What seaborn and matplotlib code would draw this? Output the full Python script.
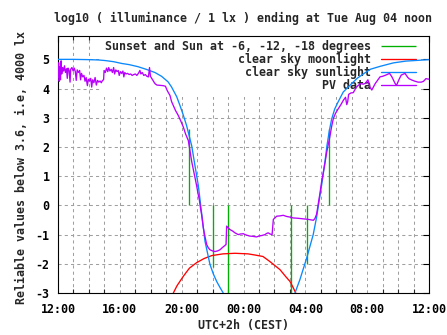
import matplotlib
matplotlib.use("Agg")
import matplotlib.pyplot as plt
import numpy as np
import pandas as pd
import seaborn as sns
from matplotlib.ticker import MultipleLocator, FixedLocator

# ---------------- data (hours after 12:00 CEST) ----------------
title = "log10 ( illuminance / 1 lx ) ending at Tue Aug 04 noon"
ylabel = "Reliable values below 3.6, i.e, 4000 lx"
xlabel = "UTC+2h (CEST)"
xtick_pos = [0, 4, 8, 12, 16, 20, 24]
xtick_labels = ["12:00", "16:00", "20:00", "00:00", "04:00", "08:00", "12:00"]
ytick_pos = [-3, -2, -1, 0, 1, 2, 3, 4, 5]

legend_labels = ["Sunset and Sun at -6, -12, -18 degrees", "clear sky moonlight",
                 "clear sky sunlight", "PV data"]

# sunset / twilight markers
sun_event_h = [8.50, 10.01, 10.98, 15.07, 16.13, 17.53]
sun_event_lo = [0.0, -2.1, -3.0, -3.0, -2.0, 0.0]
sun_event_hi = [2.6, 0.0, 0.0, 0.0, 0.0, 2.6]

# clear sky moonlight
moon_h = [7.46, 7.70, 8.09, 8.50, 8.97, 9.45, 9.94, 10.67, 11.45, 12.29, 12.75,
          13.26, 13.70, 14.36, 14.75, 15.00, 15.20, 15.38]
moon_v = [-3.0, -2.75, -2.44, -2.15, -1.96, -1.82, -1.72, -1.66, -1.64, -1.66, -1.70,
          -1.75, -1.92, -2.20, -2.45, -2.60, -2.80, -3.0]

# clear sky sunlight (evening branch, morning branch)
sun_pm_h = [0.0, 1.0, 2.0, 2.6, 3.04, 3.6, 4.12, 4.6, 5.17, 5.7, 6.27, 6.7, 7.12,
            7.35, 7.55, 7.68, 7.89, 8.1, 8.32, 8.5, 8.65, 8.86, 9.08, 9.29, 9.51,
            9.83, 10.05, 10.27, 10.5, 10.69]
sun_pm_v = [5.00, 5.00, 4.99, 4.98, 4.96, 4.92, 4.86, 4.82, 4.75, 4.66, 4.55, 4.42,
            4.23, 4.05, 3.85, 3.72, 3.42, 3.10, 2.73, 2.35, 2.04, 1.36, 0.67, -0.26,
            -1.23, -2.02, -2.35, -2.61, -2.83, -3.0]
sun_am_h = [15.33, 15.65, 16.09, 16.51, 16.73, 16.95, 17.10, 17.27, 17.40, 17.55,
            17.70, 17.90, 18.10, 18.45, 18.90, 19.35, 19.75, 20.2, 20.83, 21.7,
            22.5, 23.4, 24.0]
sun_am_v = [-3.0, -2.54, -1.80, -1.00, -0.40, 0.35, 0.85, 1.50, 2.05, 2.55, 2.95,
            3.30, 3.52, 3.88, 4.12, 4.35, 4.50, 4.66, 4.76, 4.88, 4.94, 4.97, 4.99]

# PV measurements
pv_h = [0.00, 0.04, 0.08, 0.12, 0.16, 0.20, 0.24, 0.30, 0.36, 0.42, 0.48, 0.55, 0.60,
        0.65, 0.72, 0.78, 0.82, 0.90, 0.98, 1.05, 1.12, 1.18, 1.24, 1.32, 1.40, 1.46,
        1.52, 1.60, 1.68, 1.75, 1.82, 1.90, 1.96, 2.04, 2.12, 2.18, 2.24, 2.32, 2.40,
        2.48, 2.56, 2.64, 2.72, 2.80, 2.88, 2.95, 2.98, 3.06, 3.14, 3.22, 3.28, 3.36,
        3.44, 3.52, 3.60, 3.66, 3.74, 3.82, 3.90, 3.96, 4.04, 4.12, 4.20, 4.26, 4.32,
        4.40, 4.50, 4.60, 4.70, 4.80, 4.90, 5.00, 5.10, 5.20, 5.30, 5.36, 5.45, 5.55,
        5.65, 5.75, 5.85, 5.92, 5.98, 6.05, 6.15, 6.27, 6.40, 6.60, 6.80, 6.95, 7.05,
        7.15, 7.24, 7.35, 7.46, 7.60, 7.78, 7.95, 8.11, 8.25, 8.43, 8.54, 8.65, 8.75,
        8.86, 8.97, 9.06, 9.14, 9.22, 9.30, 9.40, 9.50, 9.62, 9.72, 9.83, 10.00, 10.16,
        10.32, 10.48, 10.60, 10.74, 10.87, 10.91, 11.00, 11.13, 11.30, 11.45, 11.66,
        11.80, 11.99, 12.10, 12.21, 12.40, 12.60, 12.85, 13.00, 13.20, 13.39, 13.50,
        13.60, 13.72, 13.85, 13.93, 14.05, 14.15, 14.35, 14.57, 14.80, 15.00, 15.22,
        15.50, 15.87, 16.20, 16.52, 16.62, 16.73, 16.85, 16.95, 17.05, 17.16, 17.27,
        17.38, 17.50, 17.60, 17.70, 17.81, 17.95, 18.13, 18.30, 18.46, 18.60, 18.68,
        18.74, 18.80, 18.95, 19.10, 19.30, 19.56, 19.75, 19.88, 20.05, 20.18, 20.30,
        20.40, 20.52, 20.70, 20.83, 21.00, 21.20, 21.45, 21.60, 21.70, 21.80, 21.90,
        22.05, 22.20, 22.45, 22.60, 22.70, 22.90, 23.10, 23.30, 23.50, 23.65, 23.80,
        24.00]
pv_v = [4.40, 4.88, 4.25, 4.75, 4.30, 4.95, 4.50, 4.72, 4.60, 4.78, 4.55, 4.68, 4.35,
        4.70, 4.62, 4.22, 4.66, 4.72, 4.60, 4.70, 4.58, 4.28, 4.64, 4.55, 4.62, 4.30,
        4.52, 4.40, 4.45, 4.25, 4.38, 4.10, 4.32, 4.25, 4.35, 4.05, 4.30, 4.20, 4.38,
        4.12, 4.28, 4.22, 4.26, 4.20, 4.28, 4.30, 4.62, 4.55, 4.70, 4.58, 4.72, 4.60,
        4.66, 4.55, 4.72, 4.50, 4.64, 4.58, 4.62, 4.45, 4.58, 4.52, 4.60, 4.40, 4.55,
        4.50, 4.52, 4.48, 4.50, 4.45, 4.48, 4.50, 4.45, 4.52, 4.62, 4.50, 4.55, 4.45,
        4.48, 4.42, 4.40, 4.72, 4.42, 4.36, 4.28, 4.17, 4.12, 4.11, 4.10, 4.08, 3.95,
        3.85, 3.77, 3.55, 3.42, 3.25, 3.08, 2.88, 2.68, 2.45, 2.22, 1.85, 1.50, 1.24,
        0.95, 0.67, 0.40, 0.20, -0.10, -0.35, -0.77, -1.05, -1.34, -1.45, -1.52, -1.56,
        -1.58, -1.56, -1.52, -1.46, -1.40, -1.34, -0.71, -0.76, -0.83, -0.88, -0.94,
        -1.00, -0.98, -0.97, -1.00, -1.02, -1.05, -1.06, -1.08, -1.05, -1.03, -1.00,
        -0.96, -0.94, -0.98, -1.00, -0.48, -0.42, -0.37, -0.36, -0.34, -0.38, -0.40,
        -0.43, -0.44, -0.46, -0.48, -0.51, -0.45, -0.30, 0.10, 0.43, 0.80, 1.12, 1.45,
        1.81, 2.12, 2.39, 2.70, 2.97, 3.15, 3.31, 3.45, 3.60, 3.70, 3.45, 3.55, 3.80,
        3.85, 3.86, 4.05, 4.17, 4.15, 4.18, 4.30, 4.05, 3.95, 4.05, 4.17, 4.30, 4.40,
        4.42, 4.46, 4.52, 4.40, 4.29, 4.18, 4.11, 4.30, 4.46, 4.52, 4.40, 4.34, 4.29,
        4.25, 4.22, 4.22, 4.25, 4.34, 4.32]

# ---------------- style ----------------
GREEN, RED, BLUE, PURPLE = "#00b000", "#ff0000", "#0a88ff", "#b800ff"
FS = 8.4

sns.set_theme(style="white")
plt.rcParams['font.family'] = ['DejaVu Sans Mono', 'DejaVu Sans']
plt.rcParams['font.weight'] = 'bold'
plt.rcParams['axes.labelweight'] = 'bold'
plt.rcParams['axes.titleweight'] = 'bold'

fig = plt.figure(figsize=(4.47, 3.35), dpi=100)
fig.patch.set_facecolor("white")
L, R, T, B = 58, 429, 36, 293
ax = fig.add_axes([L / 447, 1 - B / 335, (R - L) / 447, (B - T) / 335])
ax.set_facecolor("white")

LW = 0.95
vl = ax.vlines(sun_event_h, sun_event_lo, sun_event_hi, colors=GREEN, lw=LW, zorder=3)
sns.lineplot(x=moon_h, y=moon_v, ax=ax, color=RED, lw=LW, sort=False, estimator=None,
             legend=False, zorder=3)
sns.lineplot(x=sun_pm_h, y=sun_pm_v, ax=ax, color=BLUE, lw=LW, sort=False,
             estimator=None, legend=False, zorder=3)
sns.lineplot(x=sun_am_h, y=sun_am_v, ax=ax, color=BLUE, lw=LW, sort=False,
             estimator=None, legend=False, zorder=3)
sns.lineplot(x=pv_h, y=pv_v, ax=ax, color=PURPLE, lw=LW, sort=False,
             estimator=None, legend=False, zorder=4)

ax.set_xlim(0, 24)
ax.set_ylim(-3, 5.8)
ax.xaxis.set_major_locator(FixedLocator(xtick_pos))
ax.set_xticklabels(xtick_labels)
ax.xaxis.set_minor_locator(MultipleLocator(1))
ax.set_yticks(ytick_pos)
ax.set_yticklabels([str(v) for v in ytick_pos])

ax.set_axisbelow(True)
grid_kw = dict(color="#a0a0a0", lw=0.75, linestyle=(0, (3, 3)))
ax.grid(True, axis='x', which='both', **grid_kw)
ax.grid(True, axis='y', which='major', **grid_kw)

ax.tick_params(axis='both', which='major', direction='in', length=4, width=0.8,
               top=True, right=True, labelsize=FS, colors='black', pad=6)
ax.tick_params(axis='x', which='major', pad=7)
ax.tick_params(axis='both', which='minor', direction='in', length=3, width=0.8,
               top=True, bottom=True)
for s in ax.spines.values():
    s.set_color("black")
    s.set_linewidth(0.8)

ax.set_title(title, fontsize=FS, pad=10)
ax.set_xlabel(xlabel, fontsize=FS)
ax.set_ylabel(ylabel, fontsize=FS)
ax.xaxis.set_label_coords(0.5, -(325 - B) / (B - T))
ax.xaxis.label.set_va('center')
ax.yaxis.set_label_coords(-(L - 22) / (R - L), (B - 168) / (B - T))
ax.yaxis.label.set_va('center')

handles = [vl, ax.lines[0], ax.lines[1], ax.lines[3]]
leg = ax.legend(handles, legend_labels, loc='upper right',
                bbox_to_anchor=((420 - L) / (R - L), 1.0), borderaxespad=0,
                borderpad=0.36, handlelength=3.0, handletextpad=0.85,
                labelspacing=0.0, markerfirst=False, fontsize=FS, frameon=True,
                fancybox=False)
leg.get_frame().set_facecolor("white")
leg.get_frame().set_edgecolor("none")
leg.get_frame().set_alpha(1.0)
leg.set_zorder(2)

fig.savefig("out.png", dpi=100, facecolor="white")
